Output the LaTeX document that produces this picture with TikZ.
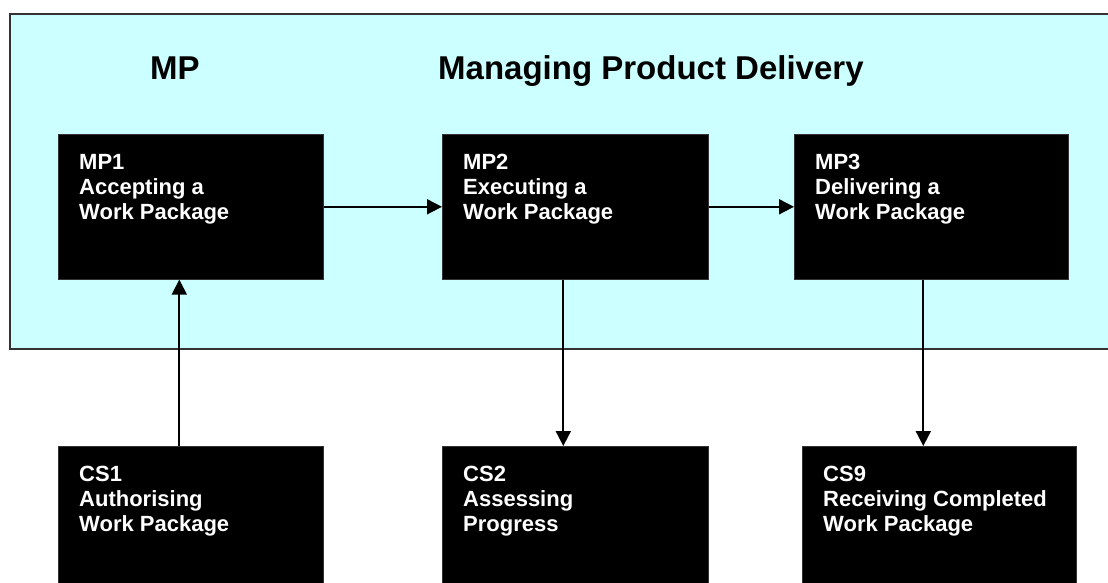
\documentclass[tikz,border=0pt]{standalone}
\usepackage{fontspec}
\setmainfont{Liberation Sans}
\usetikzlibrary{arrows.meta}
\definecolor{lightcyan}{HTML}{CCFFFF}
\definecolor{frameline}{HTML}{333333}
\tikzset{
  procbox/.style={fill=black, draw=black!80, line width=0.6pt, minimum width=#1, minimum height=160pt, anchor=north west, inner sep=0pt},
  mpbox/.style={fill=black, draw=black!80, line width=0.6pt, minimum width=#1, minimum height=145pt, anchor=north west, inner sep=0pt},
  boxtext/.style={text=white, font=\bfseries\fontsize{22}{25}\selectfont, align=left, anchor=north west, inner sep=0pt},
  titletext/.style={font=\bfseries\fontsize{33}{37}\selectfont, anchor=base west, inner sep=0pt},
  arr/.style={-{Triangle[length=15pt,width=15pt]}, line width=1.8pt, draw=black}
}
\begin{document}
\begin{tikzpicture}[x=1pt,y=-1pt]
\clip (0,0) rectangle (1108,583);
% stage frame
\fill[lightcyan] (10,14) rectangle (1110,349);
\draw[frameline, line width=2pt] (1110,14) -- (10,14) -- (10,349) -- (1110,349);
% titles
\node[titletext] (ttl1) at (150,80) {MP};
\node[titletext] (ttl2) at (438,80) {Managing Product Delivery};
% process boxes
\node[mpbox=265pt] (mp1) at (58,134) {};
\node[mpbox=266pt] (mp2) at (442,134) {};
\node[mpbox=274pt] (mp3) at (794,134) {};
\node[procbox=265pt] (cs1) at (58,446) {};
\node[procbox=266pt] (cs2) at (442,446) {};
\node[procbox=274pt] (cs9) at (802,446) {};
% texts
\node[boxtext] (mp1t) at ([shift={(21,20)}]mp1.north west) {MP1\\Accepting a\\Work Package};
\node[boxtext] (mp2t) at ([shift={(21,20)}]mp2.north west) {MP2\\Executing a\\Work Package};
\node[boxtext] (mp3t) at ([shift={(21,20)}]mp3.north west) {MP3\\Delivering a\\Work Package};
\node[boxtext] (cs1t) at ([shift={(21,20)}]cs1.north west) {CS1\\Authorising\\Work Package};
\node[boxtext] (cs2t) at ([shift={(21,20)}]cs2.north west) {CS2\\Assessing\\Progress};
\node[boxtext] (cs9t) at ([shift={(21,20)}]cs9.north west) {CS9\\Receiving Completed\\Work Package};
% connectors
\draw[arr] (mp1.east) -- (mp2.west);
\draw[arr] (mp2.east) -- (mp3.west);
\draw[arr] ([xshift=-11.5pt]mp1.south |- cs1.north) -- ([xshift=-11.5pt]mp1.south);
\draw[arr] ([xshift=-12pt]mp2.south) -- ([xshift=-12pt]mp2.south |- cs2.north);
\draw[arr] ([xshift=-8pt]mp3.south) -- ([xshift=-8pt]mp3.south |- cs9.north);
\end{tikzpicture}
\end{document}
